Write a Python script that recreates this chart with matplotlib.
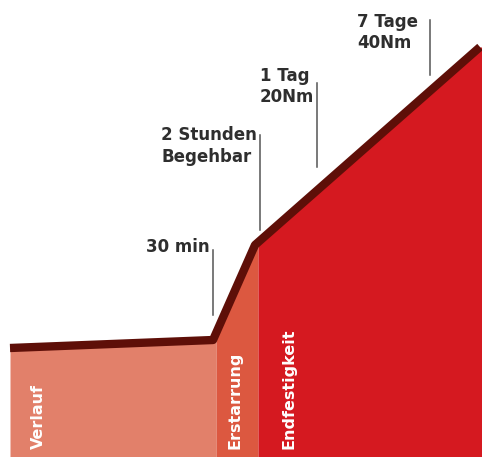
import matplotlib
matplotlib.use("Agg")
import matplotlib.pyplot as plt
import numpy as np

plt.rcParams['font.family'] = ['DejaVu Sans']

# profile of the strength curve (x position, height above bottom)
profile_x = [10, 213, 255, 480]
profile_h = [109, 117, 212, 410]

# stages: name, start, end, colour
stage_names = ["Verlauf", "Erstarrung", "Endfestigkeit"]
stage_edges = [10, 216, 258, 482]
stage_colors = ["#E2806A", "#DC5840", "#D51920"]

# milestone annotations: label, x of marker line, line bottom, line top
milestone_labels = ["30 min", "2 Stunden\nBegehbar", "1 Tag\n20Nm", "7 Tage\n40Nm"]
milestone_x = [213, 260, 317, 430]
milestone_low = [142, 227, 290, 382]
milestone_high = [207, 322, 374, 437]
label_right = [210, 257, 314, 418]
label_top = [219, 331, 390, 444]

fig = plt.figure(figsize=(4.82, 4.57), dpi=100)
ax = fig.add_axes([0, 0, 1, 1])
ax.set_xlim(0, 482)
ax.set_ylim(0, 457)
ax.axis('off')

for name, x0, x1, col in zip(stage_names, stage_edges[:-1], stage_edges[1:], stage_colors):
    xs = np.array([x0] + [p for p in profile_x if x0 < p < x1] + [x1], dtype=float)
    hs = np.interp(xs, profile_x, profile_h)
    ax.fill_between(xs, 0, hs, color=col, lw=0)

ax.plot(profile_x, profile_h, color="#5E0F08", lw=6, solid_capstyle='butt',
        solid_joinstyle='round', zorder=3)

label_pos = [(31, 8), (227, 8), (281, 8)]
for name, (lx, ly) in zip(stage_names, label_pos):
    ax.text(lx, ly, name, rotation=90, color="white", fontsize=11.5,
            fontweight='bold', ha='left', va='bottom')

for lab, mx, lo, hi, rx, ty in zip(milestone_labels, milestone_x, milestone_low,
                                   milestone_high, label_right, label_top):
    ax.plot([mx, mx], [lo, hi], color="#555555", lw=1.1)
    ax.text(rx, ty, lab, ha='right', va='top', multialignment='left',
            fontsize=12, fontweight='bold', color="#2E2E2E", linespacing=1.25)

fig.savefig("out.png", dpi=100)
